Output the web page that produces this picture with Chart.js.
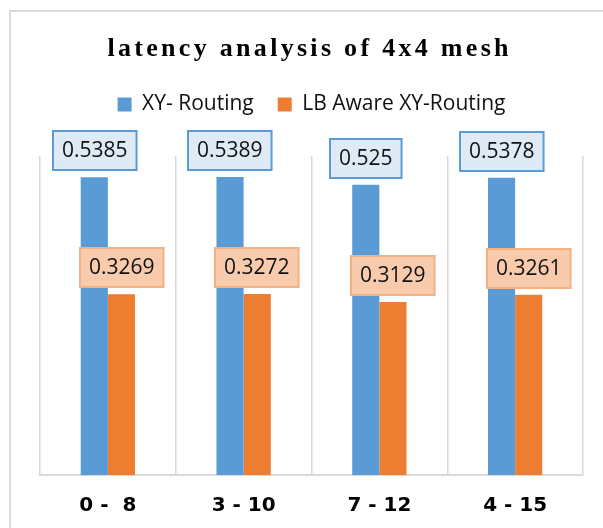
<!DOCTYPE html>
<html>
<head>
<meta charset="utf-8">
<script src="https://cdn.jsdelivr.net/npm/chart.js@4.4.1/dist/chart.umd.min.js"></script>
<style>
  html, body { margin: 0; padding: 0; background: #fff; overflow: hidden; }
  #wrap { position: relative; width: 603px; height: 528px; }
</style>
</head>
<body>
<div id="wrap"><canvas id="chart"></canvas></div>
<script>
var chartTitle = 'latency analysis of 4x4 mesh';
var categories = ['0 -  8', '3 - 10', '7 - 12', '4 - 15'];
var seriesNames = ['XY- Routing', 'LB Aware XY-Routing'];
var xyRouting = [0.5385, 0.5389, 0.525, 0.5378];
var lbAwareRouting = [0.3269, 0.3272, 0.3129, 0.3261];

// white page + light grey chart frame running off the right/bottom edge
var framePlugin = {
    id: 'frame',
    beforeDraw: function(chart) {
        var ctx = chart.ctx;
        ctx.save();
        ctx.fillStyle = '#fff';
        ctx.fillRect(0, 0, chart.width, chart.height);
        ctx.strokeStyle = '#d9d9d9';
        ctx.lineWidth = 2;
        ctx.strokeRect(10, 11, 800, 800);
        ctx.restore();
    }
};

// spaced-out serif title
var titlePlugin = {
    id: 'spacedTitle',
    afterDraw: function(chart, args, opts) {
        var ctx = chart.ctx;
        ctx.save();
        ctx.font = opts.font;
        ctx.letterSpacing = opts.spacing + 'px';
        ctx.fillStyle = opts.color;
        ctx.textBaseline = 'alphabetic';
        ctx.textAlign = 'left';
        var w = ctx.measureText(opts.text).width - opts.spacing;
        ctx.fillText(opts.text, opts.x - w / 2, opts.y);
        ctx.restore();
    }
};

// boxed value labels above each bar
var boxLabels = {
    id: 'boxLabels',
    afterDatasetsDraw: function(chart, args, opts) {
        var ctx = chart.ctx;
        ctx.save();
        ctx.font = opts.font;
        ctx.textAlign = 'center';
        ctx.textBaseline = 'middle';
        chart.data.datasets.forEach(function(ds, di) {
            var meta = chart.getDatasetMeta(di);
            var st = opts.styles[di];
            meta.data.forEach(function(bar, i) {
                var txt = String(ds.data[i]);
                var w = ctx.measureText(txt).width + 2 * opts.padX;
                var h = opts.height;
                var x = Math.round(bar.x - w / 2);
                var y = Math.round(bar.y - opts.gap - h);
                ctx.fillStyle = st.fill;
                ctx.fillRect(x, y, w, h);
                ctx.strokeStyle = st.border;
                ctx.lineWidth = 2;
                ctx.strokeRect(x, y, w, h);
                ctx.fillStyle = opts.color;
                ctx.fillText(txt, x + w / 2, y + h / 2 + 1);
            });
        });
        ctx.restore();
    }
};

new Chart(document.getElementById('chart').getContext('2d'), {
    type: 'bar',
    data: {
        labels: categories,
        datasets: [
            {
                label: seriesNames[0],
                data: xyRouting,
                backgroundColor: '#5b9bd5',
                borderWidth: 0,
                categoryPercentage: 0.4,
                barPercentage: 1.0
            },
            {
                label: seriesNames[1],
                data: lbAwareRouting,
                backgroundColor: '#ed7d31',
                borderWidth: 0,
                categoryPercentage: 0.4,
                barPercentage: 1.0
            }
        ]
    },
    options: {
        responsive: true,
        maintainAspectRatio: false,
        animation: false,
        layout: { padding: { left: 40, right: 20, top: 70, bottom: 0 } },
        scales: {
            x: {
                grid: { display: true, color: '#d9d9d9', lineWidth: 1.5, drawTicks: false, offset: true },
                border: { display: true, color: '#d9d9d9', width: 2 },
                ticks: {
                    color: '#000',
                    padding: 19,
                    font: { family: 'DejaVu Sans', size: 20, weight: 'bold' }
                },
                afterFit: function(s) { s.height = 53; }
            },
            spacer: {
                type: 'category',
                position: 'top',
                grid: { display: false },
                border: { display: false },
                ticks: { display: false },
                afterFit: function(s) { s.height = 31; }
            },
            y: {
                display: false,
                min: 0,
                max: 0.577
            }
        },
        plugins: {
            title: { display: false },
            tooltip: { enabled: false },
            legend: {
                display: true,
                position: 'top',
                labels: {
                    boxWidth: 14,
                    boxHeight: 14,
                    padding: 24,
                    color: '#111',
                    font: { family: 'Open Sans', size: 21 }
                }
            },
            spacedTitle: {
                text: chartTitle,
                font: 'bold 26px "Liberation Serif"',
                spacing: 3.3,
                color: '#000',
                x: 308,
                y: 56
            },
            boxLabels: {
                font: '21px "Open Sans"',
                color: '#111',
                padX: 9,
                height: 39,
                gap: 7,
                styles: [
                    { fill: '#deebf7', border: '#5b9bd5' },
                    { fill: '#f8cbad', border: '#f4b183' }
                ]
            }
        }
    },
    plugins: [framePlugin, titlePlugin, boxLabels]
});
</script>
</body>
</html>
